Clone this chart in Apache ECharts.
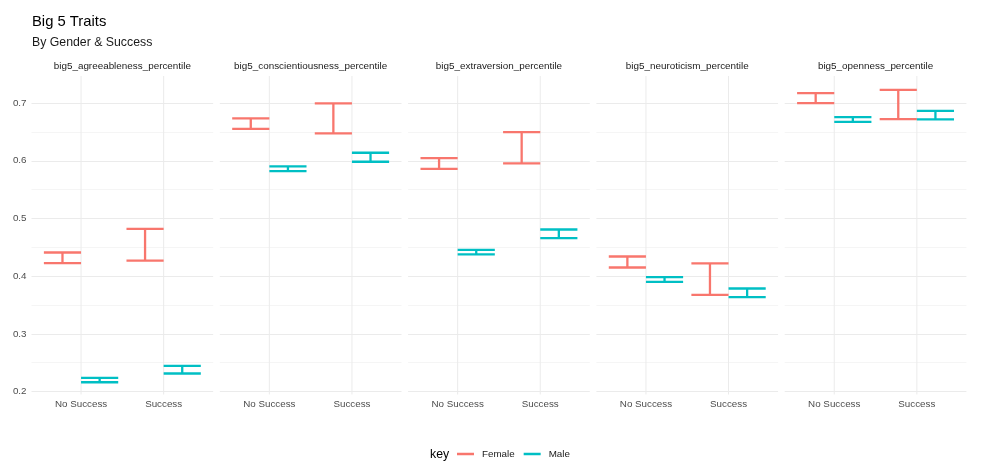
<!DOCTYPE html>
<html><head><meta charset="utf-8">
<script src="https://cdn.jsdelivr.net/npm/echarts@6/dist/echarts.min.js"></script>
<style>html,body{margin:0;padding:0;background:#fff}#c{width:982px;height:474px}</style>
</head><body><div id="c"></div>
<script>
// ---- data ----
const traits = ['big5_agreeableness_percentile', 'big5_conscientiousness_percentile', 'big5_extraversion_percentile', 'big5_neuroticism_percentile', 'big5_openness_percentile'];
const successLevels = ['No Success', 'Success'];
const genders = ['Female', 'Male'];
const yTickLabels = ['0.2', '0.3', '0.4', '0.5', '0.6', '0.7'];
// per trait: [No Success, Success]
const femaleLow  = [[0.4225, 0.427], [0.6555, 0.6474], [0.5861, 0.5954], [0.415, 0.3676], [0.700, 0.6723]];
const femaleHigh = [[0.441, 0.482], [0.6734, 0.6994], [0.6046, 0.6497], [0.4341, 0.422], [0.7173, 0.7231]];
const maleLow    = [[0.216, 0.2312], [0.5821, 0.5983], [0.4376, 0.4659], [0.3902, 0.3636], [0.6676, 0.6717]];
const maleHigh   = [[0.2237, 0.2445], [0.5902, 0.6139], [0.4457, 0.4809], [0.3983, 0.3786], [0.6757, 0.6867]];

// ---- layout / style ----
const FONT = 'Liberation Sans, Arial, Helvetica, sans-serif';
const colors = {Female: '#F8766D', Male: '#00BFC4'};
const panelLeft0 = 31.5, panelStep = 188.3, panelW = 181.7, panelTop = 76, panelH = 315.5;
const yMin = 0.2, yMax = 0.747;
const dodge = 0.225, barW = 0.45;

const chart = echarts.init(document.getElementById('c'), null, {renderer: 'canvas'});

const grids = [], xAxes = [], yAxes = [], series = [], graphics = [];

function errRender(offset) {
  return function (params, api) {
    const x = api.value(0) + offset, lo = api.value(1), hi = api.value(2);
    const hw = barW / 2;
    const a = api.coord([x - hw, hi]), b = api.coord([x + hw, hi]);
    const c = api.coord([x - hw, lo]), d = api.coord([x + hw, lo]);
    const m1 = api.coord([x, hi]), m2 = api.coord([x, lo]);
    const style = {stroke: api.visual('color'), lineWidth: 2.3, lineCap: 'butt', fill: null};
    return {type: 'group', children: [
      {type: 'line', shape: {x1: a[0], y1: a[1], x2: b[0], y2: b[1]}, style: style},
      {type: 'line', shape: {x1: c[0], y1: c[1], x2: d[0], y2: d[1]}, style: style},
      {type: 'line', shape: {x1: m1[0], y1: m1[1], x2: m2[0], y2: m2[1]}, style: style}
    ]};
  };
}

traits.forEach(function (t, i) {
  const left = panelLeft0 + i * panelStep;
  grids.push({left: left, top: panelTop, width: panelW, height: panelH, containLabel: false, outerBoundsMode: 'none'});
  xAxes.push({
    type: 'value', gridIndex: i, min: 0.4, max: 2.6, interval: 0.2,
    axisLine: {show: false}, axisTick: {show: false}, splitLine: {show: false},
    axisLabel: {
      show: true, margin: 8, color: '#4d4d4d', fontSize: 9.8, fontFamily: FONT,
      showMinLabel: false, showMaxLabel: false,
      formatter: function (v) {
        for (let j = 0; j < successLevels.length; j++) if (Math.abs(v - (j + 1)) < 1e-6) return successLevels[j];
        return '';
      }
    }
  });
  yAxes.push({
    type: 'value', gridIndex: i, min: yMin, max: yMax, interval: 0.05,
    axisLine: {show: false}, axisTick: {show: false},
    axisLabel: {
      show: i === 0, margin: 5, color: '#4d4d4d', fontSize: 9.8, fontFamily: FONT, showMaxLabel: false,
      formatter: function (v) {
        for (const l of yTickLabels) if (Math.abs(parseFloat(l) - v) < 1e-6) return l;
        return '';
      }
    },
    splitLine: {show: true, showMaxLine: false, lineStyle: {color: ['#ebebeb', '#f5f5f5'], width: 1}}
  });
  // vertical gridlines at category positions
  series.push({
    type: 'custom', name: 'vgrid', xAxisIndex: i, yAxisIndex: i, z: 1, silent: true,
    data: successLevels.map(function (s, j) { return [j + 1]; }),
    renderItem: function (params, api) {
      const p = api.coord([api.value(0), yMin]);
      const cs = params.coordSys;
      return {type: 'line', shape: {x1: p[0], y1: cs.y, x2: p[0], y2: cs.y + cs.height + 3}, style: {stroke: '#ebebeb', lineWidth: 1}};
    }
  });
  const sets = [['Female', femaleLow, femaleHigh, -dodge], ['Male', maleLow, maleHigh, dodge]];
  sets.forEach(function (s) {
    series.push({
      type: 'custom', name: s[0], xAxisIndex: i, yAxisIndex: i, z: 3,
      itemStyle: {color: colors[s[0]]},
      encode: {x: 0, y: [1, 2]},
      data: successLevels.map(function (lvl, j) { return [j + 1, s[1][i][j], s[2][i][j]]; }),
      renderItem: errRender(s[3])
    });
  });
  graphics.push({type: 'text', x: left + panelW / 2, y: 66, style: {text: t, fontSize: 9.9, fontFamily: FONT, fill: '#1a1a1a', align: 'center', verticalAlign: 'middle'}});
});

graphics.push({type: 'text', x: 32, y: 22, style: {text: 'Big 5 Traits', fontSize: 14.8, fontFamily: FONT, fill: '#000', align: 'left', verticalAlign: 'middle'}});
graphics.push({type: 'text', x: 32, y: 43, style: {text: 'By Gender & Success', fontSize: 12.3, fontFamily: FONT, fill: '#1a1a1a', align: 'left', verticalAlign: 'middle'}});
graphics.push({type: 'text', x: 430, y: 455, style: {text: 'key', fontSize: 12.3, fontFamily: FONT, fill: '#000', align: 'left', verticalAlign: 'middle'}});

chart.setOption({
  animation: false,
  backgroundColor: '#fff',
  grid: grids, xAxis: xAxes, yAxis: yAxes, series: series, graphic: graphics,
  legend: {
    data: genders, left: 457, top: 449, padding: 0, itemWidth: 17, itemHeight: 2.5, itemGap: 9, icon: 'rect',
    textStyle: {fontSize: 9.8, fontFamily: FONT, color: '#1a1a1a', padding: [0, 0, 0, 3]}
  }
});
</script></body></html>
